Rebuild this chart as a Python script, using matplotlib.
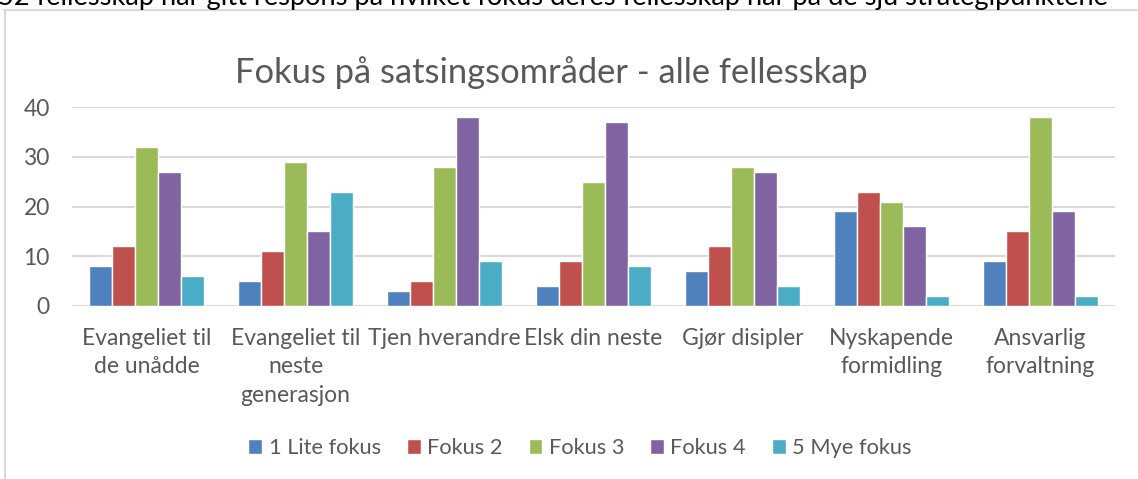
import numpy as np
import matplotlib
matplotlib.use('Agg')
import matplotlib.pyplot as plt
from matplotlib.lines import Line2D

#data
categories = ['Evangeliet til\nde unådde', 'Evangeliet til\nneste\ngenerasjon', 'Tjen hverandre',
              'Elsk din neste', 'Gjør disipler', 'Nyskapende\nformidling', 'Ansvarlig\nforvaltning']
series_names = ['1 Lite fokus', 'Fokus 2', 'Fokus 3', 'Fokus 4', '5 Mye fokus']
lite_fokus = [8, 5, 3, 4, 7, 19, 9]
fokus_2 = [12, 11, 5, 9, 12, 23, 15]
fokus_3 = [32, 29, 28, 25, 28, 21, 38]
fokus_4 = [27, 15, 38, 37, 27, 16, 19]
mye_fokus = [6, 23, 9, 8, 4, 2, 2]
y_ticks = [0, 10, 20, 30, 40]

colors = ['#4F81BD', '#C0504D', '#9BBB59', '#8064A2', '#4BACC6']
txt_col = '#595959'
plt.rcParams['font.family'] = ['Lato', 'DejaVu Sans']

W, H = 1138, 479
fig = plt.figure(figsize=(W/100, H/100), dpi=100)

#chart frame (only left and top edge visible in the reference)
fig.add_artist(Line2D([4.5/W, 4.5/W], [0, 1-10/H], color='#D9D9D9', lw=1.5))
fig.add_artist(Line2D([4/W, 1], [1-10/H, 1-10/H], color='#D9D9D9', lw=1.5))

#cut off sentence above the chart
fig.text(-2/W, 1-5/H, '52 fellesskap har gitt respons på hvilket fokus deres fellesskap har på de sju strategipunktene',
         ha='left', va='baseline', fontsize=19.6, color='black')

ax = fig.add_axes([72/W, 1-306/H, (1115-72)/W, (306-107)/H])
x = np.arange(len(categories))
bw = 0.154
all_series = [lite_fokus, fokus_2, fokus_3, fokus_4, mye_fokus]
for i, vals in enumerate(all_series):
    ax.bar(x + (i-2)*bw, vals, width=bw, color=colors[i], edgecolor='white', lw=1,
           label=series_names[i], zorder=3)

ax.set_xlim(-0.5, len(categories)-0.5)
ax.set_ylim(0, 40)
ax.set_yticks(y_ticks)
ax.set_xticks(x)
ax.set_xticklabels(categories, linespacing=1.42)
ax.tick_params(axis='both', length=0, labelsize=16.5, labelcolor=txt_col)
ax.tick_params(axis='y', pad=16)
ax.tick_params(axis='x', pad=16)
ax.grid(axis='y', color='#D9D9D9', lw=1.5, zorder=0)
for s in ax.spines.values():
    s.set_visible(False)

fig.text(551/W, 1-73/H, 'Fokus på satsingsområder - alle fellesskap', ha='center', va='center',
         fontsize=24.8, color=txt_col)

fig.legend(loc='center', bbox_to_anchor=(580/W, 1-448/H), ncol=5, frameon=False,
           fontsize=15.7, labelcolor=txt_col, handlelength=0.64, handleheight=0.64,
           handletextpad=0.28, columnspacing=1.2)

fig.savefig('out.png', dpi=100)
